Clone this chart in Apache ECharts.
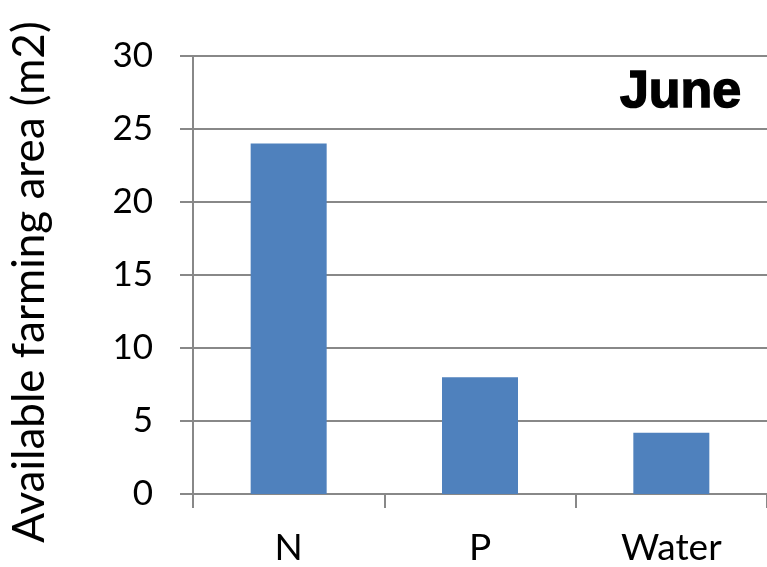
<!DOCTYPE html>
<html>
<head>
<meta charset="utf-8">
<script src="https://cdn.jsdelivr.net/npm/echarts@6/dist/echarts.min.js"></script>
<style>
  html, body { margin: 0; padding: 0; background: #fff; }
  #chart { width: 767px; height: 567px; }
</style>
</head>
<body>
<div id="chart"></div>
<script>
// categories and values
var categories = ['N', 'P', 'Water'];
var areaValues = [24, 8, 4.2];
var yTicks = [0, 5, 10, 15, 20, 25, 30];
var yTitle = 'Available farming area (m2)';
var panelLabel = 'June';

var gridColor = '#888888';
var chart = echarts.init(document.getElementById('chart'));

var option = {
  animation: false,
  backgroundColor: '#ffffff',
  grid: { left: 193, top: 56, bottom: 71, right: -5, containLabel: false },
  xAxis: {
    type: 'category',
    data: categories,
    axisLine: { show: true, lineStyle: { color: gridColor, width: 2 } },
    axisTick: { show: true, length: 14, lineStyle: { color: gridColor, width: 2 } },
    axisLabel: { color: '#000', fontFamily: 'Lato', fontSize: 37, margin: 36 }
  },
  yAxis: {
    type: 'value',
    min: yTicks[0],
    max: yTicks[yTicks.length - 1],
    interval: 5,
    axisLine: { show: true, lineStyle: { color: gridColor, width: 2 } },
    axisTick: { show: true, length: 13, lineStyle: { color: gridColor, width: 2 } },
    axisLabel: { color: '#000', fontFamily: 'Lato', fontSize: 35, margin: 40 },
    splitLine: { show: true, lineStyle: { color: gridColor, width: 2 } }
  },
  graphic: [
    {
      // y axis title, a bit below the axis middle as in the original
      type: 'text',
      x: 30,
      y: 282,
      rotation: Math.PI / 2,
      style: {
        text: yTitle,
        fill: '#000',
        font: '44px Lato',
        align: 'center',
        verticalAlign: 'middle'
      }
    },
    {
      type: 'text',
      right: 25,
      top: 66,
      style: {
        text: panelLabel,
        fill: '#000',
        font: 'bold 52px "Liberation Sans"',
        stroke: '#000',
        lineWidth: 1.5
      }
    }
  ],
  series: [
    {
      type: 'bar',
      data: areaValues,
      barWidth: 76,
      itemStyle: { color: '#4F81BD' }
    }
  ]
};

chart.setOption(option);
</script>
</body>
</html>
